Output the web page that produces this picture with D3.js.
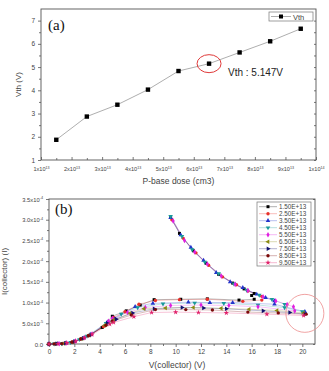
<!DOCTYPE html>
<html>
<head>
<meta charset="utf-8">
<script src="https://cdn.jsdelivr.net/npm/d3@7"></script>
<style>
  body { margin: 0; background: #fff; }
  svg { display: block; font-family: "Liberation Sans", Arial, sans-serif; }
</style>
</head>
<body>
<svg id="chart" width="329" height="371"></svg>
<script>
// ---- (a) threshold voltage vs p-base dose ----
const doseA = [1.5e13, 2.5e13, 3.5e13, 4.5e13, 5.5e13, 6.5e13, 7.5e13, 8.5e13, 9.5e13];
const vth = [1.87, 2.87, 3.38, 4.03, 4.83, 5.147, 5.63, 6.11, 6.65];
const doseTicks = [1e13, 2e13, 3e13, 4e13, 5e13, 6e13, 7e13, 8e13, 9e13, 1e14];
const vthTicks = [1, 2, 3, 4, 5, 6, 7];

// ---- (b) collector I-V ----
const seriesNames = ["1.50E+13", "2.50E+13", "3.50E+13", "4.50E+13", "5.50E+13",
                     "6.50E+13", "7.50E+13", "8.50E+13", "9.50E+13"];
const seriesColors = ["#000000", "#e8302a", "#2233cc", "#1a9a9a", "#e020e0",
                      "#8a8a10", "#10106e", "#7a0a0a", "#e0206a"];
// lower branch [V, I(1e-4 A)]
const lowerBranch = [
  [[0,0],[0.6,0.005],[1.2,0.015],[1.9,0.05],[2.6,0.13],[3.2,0.21],[4.2,0.4],[5.0,0.67],[6.1,0.8],[7.2,0.94],[8.3,1.07],[10.4,1.08],[12.5,1.09],[15.0,1.06],[16.2,1.08]],
  [[0,0],[0.5,0.004],[1.1,0.012],[1.8,0.045],[2.5,0.12],[3.1,0.2],[4.3,0.42],[5.1,0.64],[6.0,0.78],[7.1,0.96],[8.4,1.05],[10.3,1.07],[12.5,1.08],[15.3,1.03],[16.8,1.06]],
  [[0,0],[0.7,0.006],[1.3,0.02],[2.0,0.06],[2.7,0.14],[3.3,0.23],[4.6,0.53],[5.2,0.6],[6.8,0.9],[8.2,0.98],[11.0,1.01],[12.7,1.0],[14.5,1.0],[17.8,0.96],[20.2,0.78]],
  [[0,0],[0.4,0.003],[1.0,0.01],[1.7,0.04],[2.4,0.11],[3.0,0.19],[4.5,0.5],[5.7,0.72],[7.0,0.88],[9.0,0.97],[11.5,0.99],[13.8,0.98],[16.5,0.94],[18.6,0.88],[20.0,0.78]],
  [[0,0],[0.8,0.007],[1.4,0.025],[2.1,0.07],[2.8,0.15],[3.4,0.24],[4.7,0.55],[5.0,0.62],[6.2,0.76],[7.6,0.88],[9.6,0.93],[12.0,0.94],[14.2,0.93],[16.5,0.9],[19.4,0.8]],
  [[0,0],[0.5,0.004],[1.2,0.015],[1.9,0.05],[2.6,0.13],[3.2,0.21],[4.4,0.45],[5.1,0.58],[6.4,0.74],[7.5,0.85],[9.2,0.87],[11.4,0.88],[13.6,0.86],[15.8,0.84],[18.0,0.81],[20.1,0.75]],
  [[0,0],[0.6,0.005],[1.3,0.02],[2.0,0.06],[2.7,0.14],[3.3,0.22],[4.6,0.5],[5.3,0.6],[6.6,0.75],[8.3,0.85],[10.5,0.88],[12.2,0.87],[14.0,0.85],[16.9,0.8],[19.0,0.76],[20.2,0.72]],
  [[0,0],[0.4,0.003],[1.0,0.01],[1.8,0.045],[2.5,0.12],[3.1,0.2],[4.5,0.45],[5.0,0.55],[6.5,0.7],[8.4,0.83],[10.8,0.83],[12.9,0.82],[15.7,0.77],[18.1,0.75],[20.3,0.72]],
  [[0,0],[0.7,0.006],[1.4,0.025],[2.1,0.065],[2.8,0.15],[3.4,0.23],[4.8,0.48],[5.1,0.52],[6.7,0.66],[8.1,0.76],[10.0,0.77],[11.8,0.76],[14.0,0.75],[17.2,0.72],[20.1,0.69]]
];
// upper (snapback) branch for the first five doses, [V, I(1e-4 A)]
const upperBranch = [
  [[9.6,3.07],[10.3,2.67],[11.4,2.25],[12.4,1.95],[13.4,1.68],[14.5,1.47],[15.4,1.33],[16.2,1.22],[16.0,1.17]],
  [[9.7,3.0],[10.6,2.55],[11.6,2.2],[12.6,1.9],[13.7,1.62],[14.8,1.43],[15.7,1.28],[16.8,1.15]],
  [[9.6,3.05],[10.4,2.63],[11.2,2.33],[12.2,2.02],[13.2,1.72],[14.3,1.5],[15.3,1.36],[16.4,1.2],[17.1,1.12],[17.8,1.04]],
  [[9.6,3.08],[10.5,2.6],[11.3,2.28],[12.3,1.98],[13.4,1.7],[14.6,1.45],[15.6,1.3],[16.6,1.18],[17.6,1.08],[18.6,0.96]],
  [[9.8,2.97],[10.7,2.5],[11.5,2.22],[12.5,1.93],[13.6,1.64],[14.7,1.44],[15.7,1.29],[16.9,1.14],[17.9,1.04],[18.8,0.95],[19.3,0.9]]
];
const ivVTicks = [0, 2, 4, 6, 8, 10, 12, 14, 16, 18, 20];
const ivITicks = [0, 0.5e-4, 1.0e-4, 1.5e-4, 2.0e-4, 2.5e-4, 3.0e-4, 3.5e-4];

const svg = d3.select("#chart");
const axisColor = "#555";
const textColor = "#444";

function styleAxis(g) {
    g.select(".domain").remove();
    g.selectAll(".tick line").attr("stroke", axisColor).attr("stroke-width", 0.8);
    g.selectAll(".tick text").attr("font-size", 6.5).attr("fill", textColor);
}

// mantissa "x10" with a raised exponent
function supLabel(sel, base, exp, size) {
    sel.text(null).attr("font-size", size);
    sel.append("tspan").text(base);
    sel.append("tspan").attr("dy", -2.5).attr("font-size", size * 0.65).text(exp);
}

// ================= (a) =================
const A = { left: 41, right: 316, top: 9, bottom: 160 };
const xA = d3.scaleLinear().domain([1e13, 1e14]).range([A.left, A.right]);
const yA = d3.scaleLinear().domain([1, 7.5]).range([A.bottom, A.top]);

const gA = svg.append("g");

const xAMinor = d3.range(1.5e13, 1e14, 1e13);
const yAMinor = d3.range(1.5, 7.5, 1);
gA.append("g").attr("transform", `translate(0,${A.bottom})`)
    .call(d3.axisBottom(xA).tickValues(xAMinor).tickSize(-2).tickFormat(""))
    .call(styleAxis);
gA.append("g").attr("transform", `translate(${A.left},0)`)
    .call(d3.axisLeft(yA).tickValues(yAMinor).tickSize(2).tickFormat(""))
    .call(styleAxis);

const xAxisA = gA.append("g").attr("transform", `translate(0,${A.bottom})`)
    .call(d3.axisBottom(xA).tickValues(doseTicks).tickSize(-3).tickPadding(6))
    .call(styleAxis);
xAxisA.selectAll(".tick text")
    .attr("y", 11).attr("dy", null)
    .each(function(d) {
        const e = Math.floor(Math.log10(d) + 1e-9);
        const m = Math.round(d / Math.pow(10, e));
        supLabel(d3.select(this), m + "x10", e, 5.6);
    });

gA.append("g").attr("transform", `translate(${A.left},0)`)
    .call(d3.axisLeft(yA).tickValues(vthTicks).tickSize(3).tickPadding(3).tickFormat(d3.format("d")))
    .call(styleAxis);
gA.append("g").attr("transform", `translate(${A.right},0)`)
    .call(d3.axisRight(yA).tickValues(vthTicks.concat(yAMinor)).tickSize(-2).tickFormat(""))
    .call(styleAxis);

gA.append("rect")
    .attr("x", A.left).attr("y", A.top)
    .attr("width", A.right - A.left).attr("height", A.bottom - A.top)
    .attr("fill", "none").attr("stroke", axisColor).attr("stroke-width", 0.9);

gA.append("path")
    .datum(doseA.map((d, i) => [d, vth[i]]))
    .attr("fill", "none").attr("stroke", "#999").attr("stroke-width", 0.8)
    .attr("d", d3.line().x(d => xA(d[0])).y(d => yA(d[1])));

gA.selectAll("rect.pt")
    .data(doseA.map((d, i) => [d, vth[i]]))
    .join("rect").attr("class", "pt")
    .attr("x", d => xA(d[0]) - 2.2).attr("y", d => yA(d[1]) - 2.2)
    .attr("width", 4.4).attr("height", 4.4).attr("fill", "#000");

gA.append("ellipse")
    .attr("cx", xA(6.5e13)).attr("cy", yA(5.147))
    .attr("rx", 12).attr("ry", 9)
    .attr("fill", "none").attr("stroke", "#e03a3a").attr("stroke-width", 1);
gA.append("text")
    .attr("x", 228).attr("y", 76)
    .attr("font-size", 10).attr("fill", "#222")
    .text("Vth : 5.147V");

gA.append("text")
    .attr("x", 48).attr("y", 30)
    .attr("font-family", "Liberation Serif, serif").attr("font-size", 15).attr("fill", "#111")
    .text("(a)");

gA.append("text")
    .attr("transform", `translate(21,${(A.top + A.bottom) / 2}) rotate(-90)`)
    .attr("text-anchor", "middle").attr("font-size", 8).attr("fill", textColor)
    .text("Vth (V)");
gA.append("text")
    .attr("x", (A.left + A.right) / 2).attr("y", 184)
    .attr("text-anchor", "middle").attr("font-size", 8.5).attr("fill", textColor)
    .text("P-base dose (cm3)");

const legA = gA.append("g").attr("transform", "translate(269,12)");
legA.append("rect").attr("width", 44).attr("height", 9)
    .attr("fill", "#fff").attr("stroke", "#777").attr("stroke-width", 0.7);
legA.append("line").attr("x1", 2).attr("x2", 22).attr("y1", 4.5).attr("y2", 4.5)
    .attr("stroke", "#999").attr("stroke-width", 0.8);
legA.append("rect").attr("x", 10).attr("y", 2.5).attr("width", 4).attr("height", 4).attr("fill", "#000");
legA.append("text").attr("x", 24).attr("y", 7.5).attr("font-size", 7.5).attr("fill", textColor).text("Vth");

// ================= (b) =================
const B = { left: 49, right: 315, top: 199, bottom: 344 };
const xB = d3.scaleLinear().domain([0, 21]).range([B.left, B.right]);
const yB = d3.scaleLinear().domain([0, 3.5e-4]).range([B.bottom, B.top]);

const gB = svg.append("g");

gB.append("g").attr("transform", `translate(0,${B.bottom})`)
    .call(d3.axisBottom(xB).tickValues(d3.range(1, 21, 2)).tickSize(2).tickFormat(""))
    .call(styleAxis);
gB.append("g").attr("transform", `translate(${B.left},0)`)
    .call(d3.axisLeft(yB).tickValues(d3.range(0.25e-4, 3.5e-4, 0.5e-4)).tickSize(2).tickFormat(""))
    .call(styleAxis);

gB.append("g").attr("transform", `translate(0,${B.bottom})`)
    .call(d3.axisBottom(xB).tickValues(ivVTicks).tickSize(3).tickPadding(2).tickFormat(d3.format("d")))
    .call(styleAxis);

const yAxisB = gB.append("g").attr("transform", `translate(${B.left},0)`)
    .call(d3.axisLeft(yB).tickValues(ivITicks).tickSize(3).tickPadding(3))
    .call(styleAxis);
yAxisB.selectAll(".tick text")
    .attr("dy", "0.35em")
    .each(function(d) {
        const sel = d3.select(this);
        if (d === 0) { sel.text("0.0").attr("font-size", 6); return; }
        const e = Math.floor(Math.log10(d) + 1e-9);
        const m = d / Math.pow(10, e);
        supLabel(sel, m.toFixed(1) + "x10", e, 5.8);
    });

gB.append("g").attr("transform", `translate(${B.right},0)`)
    .call(d3.axisRight(yB).tickValues(ivITicks).tickSize(-2).tickFormat(""))
    .call(styleAxis);

gB.append("rect")
    .attr("x", B.left).attr("y", B.top)
    .attr("width", B.right - B.left).attr("height", B.bottom - B.top)
    .attr("fill", "none").attr("stroke", axisColor).attr("stroke-width", 0.9);

const symbolTypes = [
    { t: d3.symbolSquare, r: 0 }, { t: d3.symbolCircle, r: 0 }, { t: d3.symbolTriangle, r: 0 },
    { t: d3.symbolTriangle, r: 180 }, { t: d3.symbolDiamond, r: 0 }, { t: d3.symbolTriangle, r: -90 },
    { t: d3.symbolTriangle, r: 90 }, { t: d3.symbolCircle, r: 0 }, { t: d3.symbolStar, r: 0 }
];
const lineB = d3.line().x(d => xB(d[0])).y(d => yB(d[1] * 1e-4));

const curves = gB.append("g");
seriesNames.forEach((name, i) => {
    const branches = [lowerBranch[i]];
    if (upperBranch[i]) branches.push(upperBranch[i]);
    branches.forEach(pts => {
        curves.append("path").datum(pts)
            .attr("fill", "none").attr("stroke", seriesColors[i])
            .attr("stroke-opacity", 0.3).attr("stroke-width", 0.9)
            .attr("d", lineB);
    });
});
seriesNames.forEach((name, i) => {
    const pts = lowerBranch[i].concat(upperBranch[i] || []);
    const sym = d3.symbol().type(symbolTypes[i].t).size(9);
    curves.selectAll(null).data(pts).join("path")
        .attr("transform", d => `translate(${xB(d[0])},${yB(d[1] * 1e-4)}) rotate(${symbolTypes[i].r})`)
        .attr("d", sym).attr("fill", seriesColors[i]);
});

gB.append("circle")
    .attr("cx", xB(20.2)).attr("cy", yB(0.74e-4)).attr("r", 19)
    .attr("fill", "none").attr("stroke", "#ec8c8c").attr("stroke-width", 0.8);

gB.append("text")
    .attr("x", 55).attr("y", 214)
    .attr("font-family", "Liberation Serif, serif").attr("font-size", 15).attr("fill", "#111")
    .text("(b)");

gB.append("text")
    .attr("transform", `translate(7,${(B.top + B.bottom) / 2}) rotate(-90)`)
    .attr("text-anchor", "middle").attr("font-size", 8).attr("fill", textColor)
    .text("I(collector) (I)");
gB.append("text")
    .attr("x", 177).attr("y", 368)
    .attr("text-anchor", "middle").attr("font-size", 8.5).attr("fill", textColor)
    .text("V(collector) (V)");

const legB = gB.append("g").attr("transform", "translate(257,202)");
legB.append("rect").attr("width", 54).attr("height", 64)
    .attr("fill", "#fff").attr("stroke", "#777").attr("stroke-width", 0.7);
seriesNames.forEach((name, i) => {
    const y = 4.7 + i * 7;
    legB.append("line").attr("x1", 2).attr("x2", 20).attr("y1", y).attr("y2", y)
        .attr("stroke", seriesColors[i]).attr("stroke-opacity", 0.4).attr("stroke-width", 0.8);
    legB.append("path")
        .attr("transform", `translate(11,${y}) rotate(${symbolTypes[i].r})`)
        .attr("d", d3.symbol().type(symbolTypes[i].t).size(9)).attr("fill", seriesColors[i]);
    legB.append("text").attr("x", 22).attr("y", y + 2.3)
        .attr("font-size", 6.3).attr("fill", textColor).text(name);
});
</script>
</body>
</html>
